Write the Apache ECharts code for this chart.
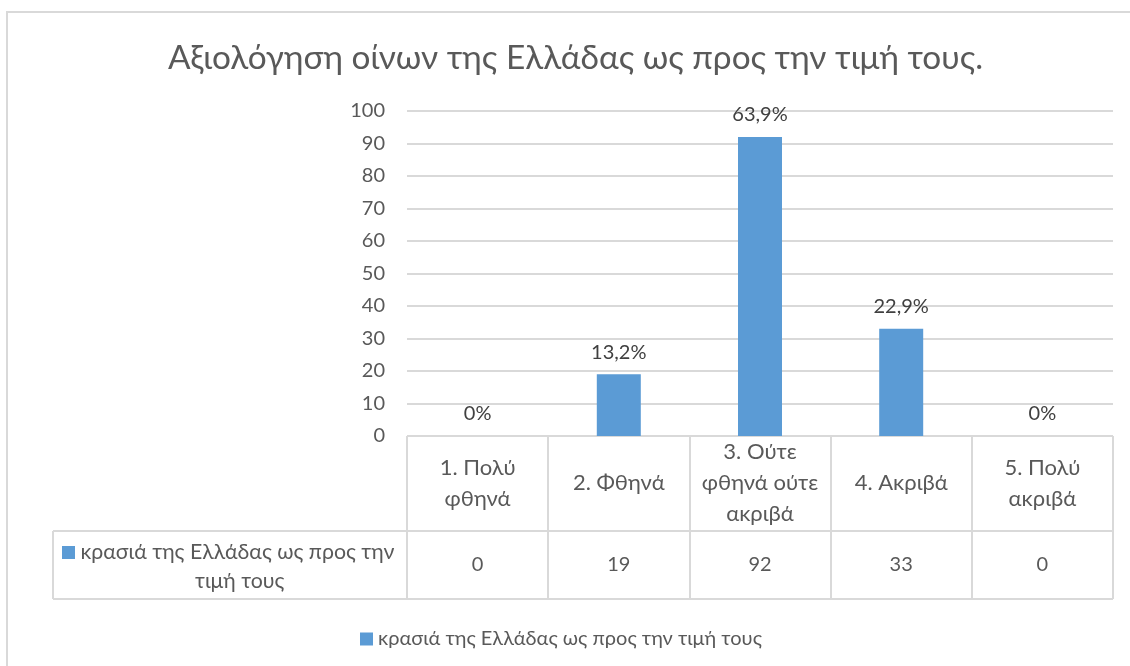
<!DOCTYPE html>
<html><head><meta charset="utf-8">
<script src="https://cdn.jsdelivr.net/npm/echarts@6/dist/echarts.min.js"></script>
<style>html,body{margin:0;padding:0;background:#fff}#c{width:1130px;height:666px}</style>
</head><body><div id="c"></div>
<script>
const chartTitle = 'Αξιολόγηση οίνων της Ελλάδας ως προς την τιμή τους.';
const seriesName = 'κρασιά της Ελλάδας ως προς την τιμή τους';
const categories = ['1. Πολύ\nφθηνά', '2. Φθηνά', '3. Ούτε\nφθηνά ούτε\nακριβά', '4. Ακριβά', '5. Πολύ\nακριβά'];
const values = [0, 19, 92, 33, 0];
const percentLabels = ['0%', '13,2%', '63,9%', '22,9%', '0%'];
const yMin = 0, yMax = 100, yInterval = 10;

const FONT = 'Lato';
const GRID = '#d9d9d9';
const BLUE = '#5b9bd5';
const chart = echarts.init(document.getElementById('c'), null, {renderer: 'canvas'});
chart.setOption({
  animation: false,
  textStyle: {fontFamily: FONT},
  title: {text: chartTitle, left: 163, top: 37,
    textStyle: {fontFamily: FONT, fontSize: 33.4, fontWeight: 'normal', color: '#595959'}},
  legend: {data: [seriesName], left: 355, top: 624, icon: 'rect', itemWidth: 13, itemHeight: 13, itemGap: 6,
    textStyle: {fontFamily: FONT, fontSize: 20, color: '#595959'}},
  grid: {left: 407, right: 17, top: 111, bottom: 230, containLabel: false},
  xAxis: [{
    type: 'category', data: categories, position: 'bottom',
    axisLine: {show: true, lineStyle: {color: GRID, width: 1}},
    axisTick: {show: true, length: 163, interval: 0, lineStyle: {color: GRID, width: 2}},
    axisLabel: {interval: 0, margin: 47, verticalAlign: 'middle', align: 'center', lineHeight: 31,
      fontFamily: FONT, fontSize: 22, color: '#595959'}
  }, {
    type: 'category', data: categories, position: 'bottom', offset: 95,
    axisLine: {show: false}, axisTick: {show: false},
    axisLabel: {interval: 0, margin: 34, verticalAlign: 'middle', fontFamily: FONT, fontSize: 20, color: '#595959',
      formatter: (v, i) => String(values[i])}
  }],
  yAxis: {
    type: 'value', min: yMin, max: yMax, interval: yInterval,
    axisLine: {show: false}, axisTick: {show: false},
    axisLabel: {margin: 22, fontFamily: FONT, fontSize: 20, color: '#595959'},
    splitLine: {lineStyle: {color: GRID, width: 2}}
  },
  series: [{
    name: seriesName, type: 'bar', data: values, barWidth: 44, xAxisIndex: 0,
    itemStyle: {color: BLUE},
    label: {show: true, position: 'top', distance: 12, fontFamily: FONT, fontSize: 20, color: '#404040',
      formatter: p => percentLabels[p.dataIndex]}
  }],
  graphic: [
    {type: 'rect', silent: true, shape: {x: 7, y: 12, width: 1140, height: 680},
      style: {fill: 'none', stroke: GRID, lineWidth: 2}},
    {type: 'line', silent: true, shape: {x1: 53, y1: 531, x2: 1113, y2: 531}, style: {stroke: GRID, lineWidth: 2}},
    {type: 'line', silent: true, shape: {x1: 53, y1: 599, x2: 1113, y2: 599}, style: {stroke: GRID, lineWidth: 2}},
    {type: 'line', silent: true, shape: {x1: 53, y1: 531, x2: 53, y2: 599}, style: {stroke: GRID, lineWidth: 2}},
    {type: 'text', silent: true, left: 62, top: 538,
      style: {text: '{sq|} ' + 'κρασιά της Ελλάδας ως προς την\n' + '{c|τιμή τους}',
        fontFamily: FONT, fontSize: 21.3, fill: '#595959', lineHeight: 29, align: 'left',
        rich: {sq: {backgroundColor: BLUE, width: 13, height: 13}, c: {padding: [0, 0, 0, 133], fontFamily: FONT, fontSize: 21.3, fill: '#595959'}}}}
  ]
});
</script></body></html>
